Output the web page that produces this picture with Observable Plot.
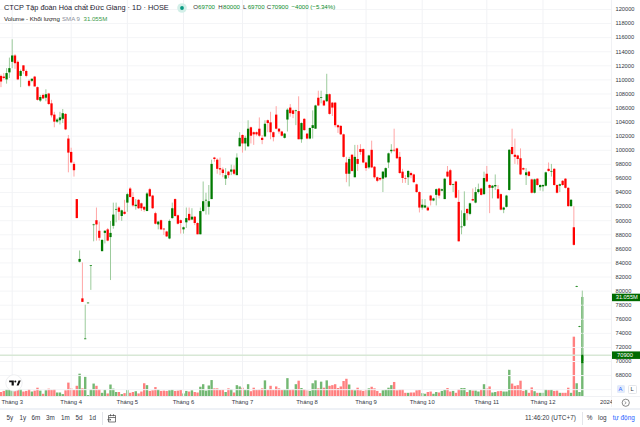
<!DOCTYPE html>
<html><head><meta charset="utf-8">
<script src="https://cdn.jsdelivr.net/npm/d3@7"></script>
<script src="https://cdn.jsdelivr.net/npm/@observablehq/plot@0.6"></script>
<style>
html,body{margin:0;padding:0;background:#fff;width:640px;height:427px;overflow:hidden;font-family:"Liberation Sans",Arial,sans-serif;color:#131722}
#wrap{position:relative;width:640px;height:427px;overflow:hidden}
#wrap > svg{position:absolute;left:0;top:0;background:transparent;overflow:visible}
.t{position:absolute;white-space:nowrap;line-height:1}
.t svg{display:block}
.band{position:absolute;background:#eef1f6}
</style></head><body><div id="wrap"></div>
<script>
const open=[110.5,110.4,110,111,112.5,113.4,112.5,110.5,112,111.2,
109.8,109.8,110.4,108.9,107,107.8,107.4,108,106.6,105,
104,104.2,104.4,105.1,101.6,99.7,98,93,84.1,78.9,
73.1,78.2,83.5,89.3,90,88.5,85.6,88.2,88.7,87.6,
89.2,91.5,91.8,90.6,91.2,92.5,94.5,93.3,92,92.9,
92.4,91.9,91.3,94.4,93.5,91,89.4,90,88.8,88.4,
87.4,90.3,93,90.7,90,88.7,89.7,90.9,90.1,90.5,
89.6,88,91.3,92.8,91.9,93,98.9,98.6,97.4,97.2,
95.9,96.9,96.9,97.2,96.4,100.5,102.1,100.9,100.5,103.2,
102.5,102.5,103,101.7,101.9,104.2,103.9,102.5,105,103,
102.6,101.7,104.3,106,105.6,105.5,105.5,101.5,104.4,102.3,
101.6,103.1,103,107.4,107.4,107,106.9,107.9,106.7,106.7,
103.5,103.4,102.2,98.2,96.6,99.3,96.1,98.7,100.1,100.1,
98.2,97.5,100,97.6,96.1,96,95.9,96.1,98.2,99.8,
100,100.2,99,96.9,96,96.1,96.7,96.5,95.1,94,
91.8,91.8,91.8,93.5,92.8,93.6,94.5,94.2,93,96.9,
97.1,95,95.5,92.6,89,89.2,91.6,90.9,93,92.5,
94,94.5,93.7,96.6,95,94.6,94.8,94.4,93.7,91.5,
91.9,94.3,100.4,99.3,99.2,98.8,97.4,96.4,96.9,95.8,
93.9,95.9,94.7,94.8,94.9,97.3,96.9,97.3,95,94.9,
95.6,95.9,94.6,92,89,80.55,74.85,69.7];
const high=[110.7,110.9,111.6,113.1,115.7,113.6,112.7,111.4,112,111.4,
110,110.1,110.5,109,107.8,108,108.6,108.1,107.1,105.4,
104.5,105.4,105.8,105.2,102.1,100.3,98.3,93,85.7,84,
78,78.3,83.6,89.5,91.8,89.8,87.3,88.6,88.9,89.9,
92.5,92.5,92,91.5,92.9,93.9,94.7,94,93,93,
92.5,92,94,94.6,93.6,91.2,89.9,90.1,88.9,88.5,
90.1,92.5,93.1,90.8,90.1,89.1,91.8,91.8,91.7,90.6,
89.7,91.8,95.5,93.9,95,98.6,99,98.8,98.9,97.5,
97.4,97,97.9,97.8,99.5,102.5,102.2,102,104.2,103.3,
102.6,102.6,104.6,102.1,104.2,104.3,105.4,102.6,106.2,103.1,
102.7,102.4,105.9,106.5,105.7,105.7,107.6,103.9,104.5,102.4,
103.2,105.6,106.4,108.4,108.4,107.1,110.8,108,106.8,106.8,
103.6,103.5,102.3,99,99,99.4,100.7,100.7,100.8,100.2,
98.3,99.3,101.3,97.7,96.2,96.1,97,97.5,99.6,100.8,
103,100.3,99.7,97.3,96.4,97.1,96.9,96.6,95.2,94.1,
93,93,92,93.6,93.2,94.5,94.6,94.5,96,97.7,
97.3,95.2,95.6,94.3,91.4,94.1,91.7,92.5,94.5,94.7,
95.2,94.6,96.9,97.7,95.1,95,96.5,95,93.8,91.9,
93.6,100.1,103,101.6,99.3,100.2,97.5,97.4,97,95.9,
95.9,96,95.1,95.1,96.9,98.2,98,97.4,95.1,95.2,
95.7,96,94.7,93,92,80.7,75,80];
const low=[108.9,110,109.4,110.2,111.6,111.5,109.9,108.9,110.8,110.3,
108.9,109.6,109,107,106.8,107.2,106.9,106.4,104.6,103.2,
103.8,103.6,103.8,102.8,96.8,98.1,96.2,90.3,84,78.4,
73.1,78.2,80.1,87,87.1,87.1,85.6,86.7,87,81.5,
88.8,89.7,90,89.9,90.8,91.2,93.2,91.9,91.5,91.6,
91.3,91.2,91.3,93.3,91.6,89.4,88.7,88.6,87.9,87.6,
87.3,90.2,90.5,89.4,88.1,88.1,88.9,89.9,90,89.3,
88,88,91.2,90.8,90.8,93,98.3,96.6,96.4,96.1,
95,96,96.4,96.4,96.4,100.5,99.6,99.9,100.4,100.9,
100.7,102,101.8,100.8,101.8,102.5,101.5,101.2,102.9,102.3,
101.9,101.6,102.6,104.7,104.5,103.5,101.5,101,102.7,101.5,
101.5,101.6,103,106.2,106.6,106.2,106.8,105,104.8,103.2,
102.4,102.1,98.9,95.4,94.8,96.9,96.1,97,99.3,98.1,
97,97.3,97.4,95.9,95.4,95.6,94,96,97.4,99.5,
99.7,98.7,96.6,95.3,95.3,95,96,95.3,93.9,91.1,
91.5,91.7,91.3,92.1,92.7,92.1,93.1,94.1,93,96.1,
94.9,94,93.1,87,88,89.1,90,90.7,92.7,92.4,
93.8,93.5,93.6,95.4,91,93.1,94.3,93,91.4,91,
91.8,94.2,99.3,98,97.9,96.4,97.1,95,96.2,93.8,
93.8,94.9,94.2,94.1,94.8,96.9,96.2,94.9,93.8,94,
94.9,94.5,91.9,91.9,86.4,80.5,74.8,69.7];
const close=[109.7,110.2,110.9,111.6,113.4,112.3,110,111.2,111.2,110.5,
109.1,110.1,109,107.1,107.5,107.3,107.9,106.5,104.9,104,
104.3,104.6,105.2,102.9,99.6,98.2,97.1,90.3,84.5,78.4,
73.2,78.3,83.6,89.4,89.4,87.5,87.2,88.5,87.1,88.2,
90.8,91.6,91.2,91.4,90.9,93.7,93.3,92.1,92.2,91.7,
91.7,91.5,93.8,93.4,91.7,89.5,89.8,88.7,88.7,87.7,
89.9,91.7,90.6,89.5,89.6,89,90.3,90,90.5,89.6,
88,91.3,92.7,92.9,92.7,98,98.7,97.3,97.2,96.7,
96.4,96.4,97.2,96.6,98.9,101.7,100.9,101.7,103,102,
102.2,102.2,102,101.4,103.7,103.8,102.5,101.8,103,102.6,
102,102.3,105.7,105.2,105.1,105.6,101.5,103.8,102.8,101.6,
103.1,103.5,106.3,106.3,107.5,106.3,107.9,105.1,106,103.5,
103.2,102.2,99,96.6,98.7,97,99,98,99.7,98.2,
97.4,99.2,97.5,96.1,95.6,95.8,96.9,97.4,99.5,100,
99.9,98.8,96.7,96,95.9,97,96.4,95.4,94,91.8,
92.2,92.1,91.4,92.8,93.1,94.4,93.5,94.4,95.9,96.2,
95,95.1,93.2,87,89.1,91,91,92.4,92.8,94,
94.4,93.6,96,95.5,94.6,94.9,95,93.1,91.5,91.8,
93.5,100,99.4,99,98.7,96.5,97.2,96.8,96.3,93.9,
95.8,95,95,95,96.8,97,97,95,93.9,95.1,
95,94.6,92,92.9,86.5,80.65,74.95,70.9];
const volume=[1.25,1.6,2.1,2.1,1.8,1.6,2,2.2,1.4,1.6,
2.2,1.4,1.7,2.6,1.7,.7,1.8,2.3,2,2.2,
1.1,1.1,.6,1.8,4.2,2.4,1.9,3.2,7,2.4,
6,.3,2.1,3.9,3.2,2.2,1,2,.8,3.6,
2.3,1.25,1.25,.6,.9,1.9,1,1.25,1.5,.8,
1.4,4,3.4,1.6,1.8,2.8,2.1,1.6,1.7,1.6,
1.8,2,1.6,1.7,1.9,.8,1.6,1.4,1.8,1.25,
1.1,2.9,3.7,1.7,3.3,5,2.4,2.4,1.9,2,
1.25,2.4,2.2,1.1,3.4,3,2.6,2,3.7,1.5,
2.6,2,2.1,2.4,4.9,1.9,3.2,1.9,3,2.4,
1.9,2,5.6,2,2.2,3.7,4.8,2.5,2.2,1.8,
1.6,4,4.9,2.4,4.5,2.6,4.9,3.2,3.4,3.7,
2.5,3,4.7,5.4,3.6,2,1.8,2.6,1.8,1.6,
2.1,2.4,2.9,2.4,1.6,.9,1.8,2,2.6,3.4,
4.4,1.8,2.1,2.2,1,1,1.1,1.1,1.8,1.9,
.9,.7,1.25,1.4,.7,1.25,1.1,1.6,2,2.5,
1.4,1.6,1,2.2,2.5,2.5,1.25,1.9,1.7,1.7,
1.4,2,3.7,2.4,3,1.1,1.25,1.5,1.6,1.4,
1.4,8.2,3.9,3.2,3.4,4.8,1.6,2,1,2.7,
1.5,1,1,1,2.1,1.9,2,1.6,1.7,1,
1,1,2.6,1,18.6,4,1.25,31.055];
const monthIdx=[4,25,45,65,86,109,130,150,173,193];
const monthLabels=["Tháng 3","Tháng 4","Tháng 5","Tháng 6","Tháng 7","Tháng 8","Tháng 9","Tháng 10","Tháng 11","Tháng 12"];
const priceTicks=d3.range(68,121,2);
const gridTicks=d3.range(66,121,2);
const lastClose=[70.9];
const lastVolume=[31.055];
const RED="#ff0000",GREEN="#007a00",WICK_RED="#ffa6a6",WICK_GREEN="#9ccb9c",VOL_RED="#ff8080",VOL_GREEN="#73b873";
const idx=d3.range(open.length);
const up=i=>close[i]>=open[i];
const xOpts={domain:[-0.167,217.4],range:[0,611]};
const FONT='"Liberation Sans",Arial,sans-serif';
const fmtM=v=>v.toFixed(3)+"M";

const volPlot=Plot.plot({
  width:640,height:408,marginTop:290,marginBottom:12,marginLeft:0,marginRight:29,
  style:{fontFamily:FONT,background:"transparent"},
  x:{...xOpts},y:{domain:[0,33.23],axis:null},
  marks:[
    Plot.ruleX(idx,{x:i=>i,y1:0,y2:i=>volume[i],stroke:i=>up(i)?VOL_GREEN:VOL_RED,strokeWidth:2.4}),
    Plot.axisX({anchor:"bottom",ticks:monthIdx,tickFormat:d=>monthLabels[monthIdx.indexOf(d)],tickSize:0,tickPadding:3,fontSize:5.9,label:null,fill:"#33373f"}),
    Plot.ruleY(lastVolume,{x1:217.6,x2:227.8,y:d=>d,stroke:"#006b00",strokeWidth:7.5}),
    Plot.text(lastVolume,{x:218.9,y:d=>d,text:fmtM,textAnchor:"start",fill:"#fff",fontSize:5.7})
  ]
});
const pricePlot=Plot.plot({
  width:640,height:396,marginTop:0,marginBottom:0,marginLeft:0,marginRight:29,
  style:{fontFamily:FONT,background:"transparent"},
  x:{...xOpts,axis:null},y:{domain:[65.03,121.28],axis:null},
  marks:[
    Plot.ruleY(gridTicks,{stroke:"#f4f5f7",strokeWidth:1}),
    Plot.ruleX(monthIdx,{stroke:"#f1f2f5",strokeWidth:1}),
    Plot.ruleY(lastClose,{stroke:"#d8e8d6",strokeWidth:1.6}),
    Plot.ruleX(idx,{x:i=>i,y1:i=>low[i],y2:i=>high[i],stroke:i=>up(i)?WICK_GREEN:WICK_RED,strokeWidth:1}),
    Plot.ruleX(idx,{x:i=>i,y1:i=>open[i],y2:i=>close[i],stroke:i=>up(i)?GREEN:RED,strokeWidth:2.3}),
    Plot.axisY({anchor:"right",ticks:priceTicks,tickFormat:d=>String(d*1000),tickSize:0,tickPadding:4,fontSize:5.7,label:null,fill:"#33373f",textAnchor:"start"}),
    Plot.ruleY(lastClose,{x1:217.6,x2:227.8,stroke:"#006b00",strokeWidth:7.5}),
    Plot.text(lastClose,{x:219.4,y:d=>d,text:d=>String(d*1000),textAnchor:"start",fill:"#fff",fontSize:5.7})
  ]
});
const wrap=document.getElementById("wrap");
wrap.append(volPlot,pricePlot);
function t(txt,x,y,size,color,extra){const e=document.createElement("div");e.className="t";e.textContent=txt;e.style.cssText=`left:${x}px;top:${y}px;font-size:${size}px;color:${color};${extra||""}`;wrap.append(e);return e}
function band(x,y,w,h,c){const e=document.createElement("div");e.className="band";e.style.cssText=`left:${x}px;top:${y}px;width:${w}px;height:${h}px;background:${c||"#eef1f6"}`;wrap.append(e)}
function icon(x,y,w,h,inner){const d=document.createElement("div");d.className="t";d.style.cssText=`left:${x}px;top:${y}px;width:${w}px;height:${h}px`;d.innerHTML=`<svg width="${w}" height="${h}" viewBox="0 0 ${w} ${h}">${inner}</svg>`;wrap.append(d)}
// header
t("CTCP Tập đoàn Hóa chất Đức Giang · 1D · HOSE",4,3.7,7.33,"#1c2030");
icon(176.5,2.5,10,10,'<circle cx="5" cy="5" r="4.8" fill="#d3efe8"/><circle cx="5" cy="5" r="1.9" fill="#089981"/>');
const ohlc=[["O",193.3,"69700"],["H",218.3,"80000"],["L",243,"69700"],["C",266.7,"70900"]];
for(const [a,x,v] of ohlc){t(a,x,4.4,6.1,"#333");t(v,x+4.7,4.4,6.1,"#0a8a2a")}
t("−4000 (−5.34%)",291.5,4.4,6.1,"#0a8a2a");
t("Volume - Khối lượng",4,15.6,6.1,"#222");
t("SMA 9",62,15.6,6.1,"#8a8f9a");
t("31.055M",83.5,15.6,6.1,"#3a9a4a");
// logo
icon(4.5,373.5,18,18,'<circle cx="9" cy="9" r="8.2" fill="#fff" stroke="#e2e4e8" stroke-width=".6"/><path d="M4.2 6.6h4.6v5H6.6V8.3H4.2z" fill="#111"/><circle cx="10.3" cy="7.6" r="1" fill="#111"/><path d="M11.6 11.6l2-5h2.2l-2.2 5z" fill="#111"/>');
// bottom
band(0,407.5,640,2.5,"#eef1f6");
band(611,0,.6,407,"#f0f1f4");
band(0,395.8,640,.6,"#f0f1f4");
band(101.5,412,.6,13,"#e3e5ea");band(581.5,412,.6,13,"#e3e5ea");
const ranges=[["5y",6.5],["1y",19.5],["6m",31.5],["3m",46],["1m",61],["5d",75.5],["1d",89]];
for(const [s,x] of ranges)t(s,x,415,6.3,"#33373f");
icon(107,413,10,10,'<path d="M1.5 2.5h7v6.5h-7zM1.5 4.5h7M3.5 1.2v2M6.5 1.2v2" fill="none" stroke="#444" stroke-width=".7"/><path d="M.3 6.7h3.4M2.6 5.6l1.2 1.1-1.2 1.1" fill="none" stroke="#444" stroke-width=".7"/>');
t("11:46:20 (UTC+7)",525,415,6.4,"#33373f");
t("%",586.7,415,6.4,"#33373f");
t("log",598,415,6.4,"#33373f");
t("tự động",612.7,415,6.4,"#2962ff");
t("2024",600,399.5,5.9,"#33373f","width:12px;overflow:hidden");
icon(621,398,9.5,9.5,'<circle cx="4.75" cy="4.75" r="3.6" fill="none" stroke="#555" stroke-width=".7"/><path d="M3.6 3.4l1.6 1.35-1.6 1.35" fill="none" stroke="#555" stroke-width=".6"/>');
t("A",616.5,385,5.8,"#2962ff","width:7px;height:7px;line-height:7px;text-align:center;background:#e3ebfb;border-radius:1.5px;padding:.5px");
t("L",627.5,385,5.8,"#33373f","width:7px;height:7px;line-height:7px;text-align:center;background:#fff;border:.5px solid #e4e6ea;border-radius:1.5px");
</script></body></html>
